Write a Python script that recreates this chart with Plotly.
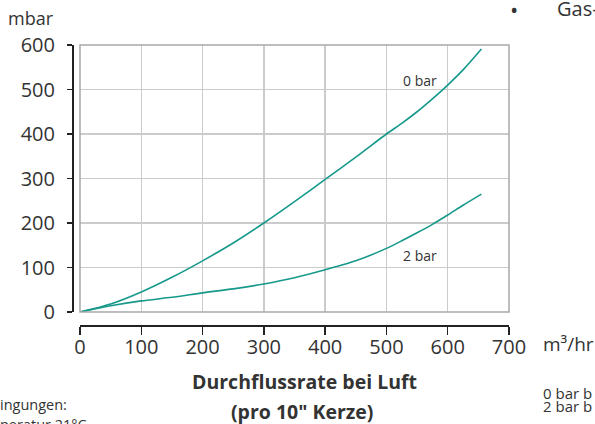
import plotly.graph_objects as go

# Data
flow = [0, 50, 100, 150, 200, 250, 300, 350, 400, 450, 500, 525, 550, 575, 600, 625, 655]
dp_0bar = [0, 18, 45, 78, 115, 155, 200, 248, 298, 348, 400, 424, 450, 479, 510, 544, 591]
dp_2bar = [0, 14, 25, 33, 43, 52, 63, 77, 95, 115, 143, 160, 178, 197, 218, 240, 265]
x_ticks = [0, 100, 200, 300, 400, 500, 600, 700]
y_ticks = [0, 100, 200, 300, 400, 500, 600]
series_labels = ["0 bar", "2 bar"]

TEAL = "#16998b"
TXT = "#333333"
FONT = "Open Sans"

fig = go.Figure()
fig.add_trace(go.Scatter(x=flow, y=dp_0bar, mode="lines",
                         line=dict(color=TEAL, width=1.6, shape="spline", smoothing=0.7),
                         name=series_labels[0], showlegend=False))
fig.add_trace(go.Scatter(x=flow, y=dp_2bar, mode="lines",
                         line=dict(color=TEAL, width=1.6, shape="spline", smoothing=0.7),
                         name=series_labels[1], showlegend=False))

L, R, T, B = 72, 86, 45, 99
W, H = 595, 424
pw, ph = W - L - R, H - T - B

def px(xp):
    return (xp - L) / pw

def py(yp):
    return (H - B - yp) / ph

fig.update_layout(
    width=W, height=H,
    margin=dict(l=L, r=R, t=T, b=B, pad=0),
    paper_bgcolor="white", plot_bgcolor="white",
    font=dict(family=FONT, color=TXT, size=17),
    xaxis=dict(domain=[px(80), 1], range=[0, 700], tickvals=x_ticks,
               anchor="free", position=0,
               showline=True, linecolor="#222222", linewidth=1.5,
               ticks="outside", ticklen=8, tickwidth=1.5, tickcolor="#222222",
               ticklabelstandoff=-5,
               showgrid=True, gridcolor="#cbcbcb", gridwidth=1.5,
               zeroline=False, tickfont=dict(size=20, color=TXT)),
    yaxis=dict(domain=[py(312), 1], range=[0, 600], tickvals=y_ticks,
               anchor="free", position=0,
               showline=True, linecolor="#222222", linewidth=1.5,
               ticks="outside", ticklen=5, tickwidth=1.5, tickcolor="#222222",
               ticklabelstandoff=8,
               showgrid=True, gridcolor="#cbcbcb", gridwidth=1.5,
               zeroline=False, tickfont=dict(size=20, color=TXT)),
)

# plot-area frame
fig.add_shape(type="rect", xref="x domain", yref="y domain", x0=0, x1=1, y0=0, y1=1,
              line=dict(color="#a8a8a8", width=1.5), layer="above")

ann = [
    dict(text=series_labels[0], xref="x", yref="y", x=555, y=521, font=dict(size=14)),
    dict(text=series_labels[1], xref="x", yref="y", x=555, y=126, font=dict(size=14)),
    dict(text="mbar", x=px(31), y=py(18), font=dict(size=18)),
    dict(text="m³/hr", x=px(541), y=py(344), xanchor="left", font=dict(size=19)),
    dict(text="<b>Durchflussrate bei Luft</b>", x=px(304), y=py(381), font=dict(size=19.5)),
    dict(text="<b>(pro 10\" Kerze)</b>", x=px(302), y=py(411), font=dict(size=19.5)),
    dict(text="•", x=px(514), y=py(9), font=dict(size=22)),
    dict(text="Gas-", x=px(555), y=py(8), xanchor="left", font=dict(size=20)),
    dict(text="ingungen:", x=px(-2), y=py(405), xanchor="left", font=dict(size=14.5)),
    dict(text="peratur 21°C", x=px(-2), y=py(424), xanchor="left", font=dict(size=14.5)),
    dict(text="0 bar b", x=px(541), y=py(393), xanchor="left", font=dict(size=15)),
    dict(text="2 bar b", x=px(541), y=py(406), xanchor="left", font=dict(size=15)),
]
for a in ann:
    a.setdefault("xref", "paper")
    a.setdefault("yref", "paper")
    a.setdefault("xanchor", "center")
    a["yanchor"] = "middle"
    a["showarrow"] = False
    fig.add_annotation(**a)

fig.write_html("out.html",
               config={"displayModeBar": False, "staticPlot": True},
               post_script="document.body.style.margin='0';document.body.style.overflow='hidden';")
